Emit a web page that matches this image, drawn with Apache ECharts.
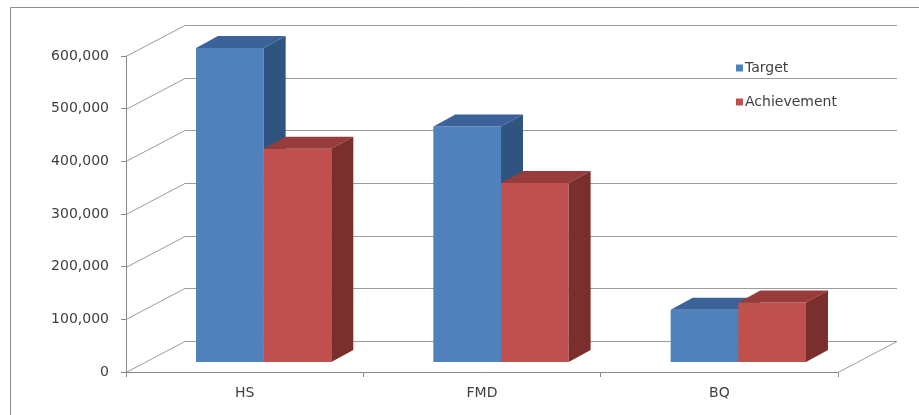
<!DOCTYPE html>
<html>
<head>
<meta charset="utf-8">
<script src="https://cdn.jsdelivr.net/npm/echarts@6/dist/echarts.min.js"></script>
<style>
  html, body { margin: 0; padding: 0; background: #ffffff; overflow: hidden; }
  #chart { width: 919px; height: 415px; }
</style>
</head>
<body>
<div id="chart"></div>
<script>
// ---- data ----
const categories = ['HS', 'FMD', 'BQ'];
const seriesNames = ['Target', 'Achievement'];
const targetValues = [596000, 447000, 99000];
const achievementValues = [405000, 340000, 113000];
const valueTicks = [0, 100000, 200000, 300000, 400000, 500000, 600000];

// ---- oblique 3D look (pixel offsets) ----
const WALL_DX = 59, WALL_DY = -31;        // depth of the back wall behind the front axis
const BAR_DX = 19, BAR_DY = -10;          // where the front faces of the bars sit
const DEPTH_DX = 22, DEPTH_DY = -12;      // thickness of each bar
const BAR_FRAC = 0.285;                   // bar width as a share of one category band

const GRID_COLOR = '#9c9c9c';
const AXIS_COLOR = '#888888';
const TEXT_COLOR = '#404040';
const FONT = 'DejaVu Sans';

const palette = {
  Target:      { front: '#4f81bd', top: '#3b6399', side: '#2f5480' },
  Achievement: { front: '#c0504d', top: '#973c3a', side: '#7a2f2d' }
};

function fmt(v) {
  return String(v).replace(/\B(?=(\d{3})+(?!\d))/g, ',');
}

// back wall gridlines with their diagonal connectors, plus the floor edge
function renderWall(params, api) {
  const cs = params.coordSys;
  const v = api.value(1);
  const y = Math.round(api.coord([0, v])[1]) + 0.5;
  const x0 = cs.x, x1 = cs.x + cs.width;
  const yb = y + WALL_DY;
  const st = { stroke: GRID_COLOR, lineWidth: 1 };
  const children = [
    { type: 'line', shape: { x1: x0, y1: y, x2: x0 + WALL_DX, y2: yb }, style: st },
    { type: 'line', shape: { x1: x0 + WALL_DX, y1: yb, x2: x1 + WALL_DX, y2: yb }, style: st }
  ];
  if (v === 0) {
    children.push({ type: 'line', shape: { x1: x1, y1: y, x2: x1 + WALL_DX, y2: yb }, style: st });
  }
  return { type: 'group', children: children };
}

// one 3D column: front face, top face, right side face
function makeBarRenderer(slot, colors) {
  return function (params, api) {
    const i = api.value(0), v = api.value(1);
    const base = api.coord([i, 0]);
    const head = api.coord([i, v]);
    const band = api.size([1, 0])[0];
    const w = band * BAR_FRAC;
    const l = base[0] + (slot === 0 ? -w : 0) + BAR_DX;
    const r = l + w;
    const yb = base[1] + BAR_DY;
    const yt = head[1] + BAR_DY;
    return {
      type: 'group',
      children: [
        { type: 'rect', shape: { x: l, y: yt, width: w, height: yb - yt }, style: { fill: colors.front } },
        { type: 'polygon', shape: { points: [[l, yt], [r, yt], [r + DEPTH_DX, yt + DEPTH_DY], [l + DEPTH_DX, yt + DEPTH_DY]] }, style: { fill: colors.top } },
        { type: 'polygon', shape: { points: [[r, yt], [r + DEPTH_DX, yt + DEPTH_DY], [r + DEPTH_DX, yb + DEPTH_DY], [r, yb]] }, style: { fill: colors.side } }
      ]
    };
  };
}

const chart = echarts.init(document.getElementById('chart'));

const option = {
  backgroundColor: '#ffffff',
  animation: false,
  textStyle: { fontFamily: FONT },
  grid: { left: 126, right: 81, top: 56, bottom: 43, containLabel: false },
  legend: {
    data: seriesNames,
    orient: 'vertical',
    left: 731,
    top: 56,
    icon: 'rect',
    itemWidth: 7,
    itemHeight: 7,
    itemGap: 20,
    textStyle: { color: TEXT_COLOR, fontSize: 14, fontFamily: FONT, padding: [0, 0, 0, -3] }
  },
  xAxis: {
    type: 'category',
    data: categories,
    boundaryGap: true,
    axisLine: { lineStyle: { color: AXIS_COLOR } },
    axisTick: { show: true, length: 5, lineStyle: { color: AXIS_COLOR } },
    axisLabel: { color: TEXT_COLOR, fontSize: 14, margin: 14, fontFamily: FONT },
    splitLine: { show: false }
  },
  yAxis: {
    type: 'value',
    min: 0,
    max: 600000,
    interval: 100000,
    axisLine: { show: true, lineStyle: { color: AXIS_COLOR } },
    axisTick: { show: true, length: 5, lineStyle: { color: AXIS_COLOR } },
    axisLabel: { color: TEXT_COLOR, fontSize: 14, margin: 17, fontFamily: FONT, formatter: fmt },
    splitLine: { show: false }
  },
  graphic: [
    // outer frame: only its left and top edges fall inside the canvas
    { type: 'rect', shape: { x: 10.5, y: 7.5, width: 1000, height: 1000 }, style: { stroke: '#8c8c8c', lineWidth: 1, fill: 'transparent' }, silent: true, z: -1 }
  ],
  series: [
    {
      type: 'custom',
      name: 'wall',
      renderItem: renderWall,
      data: valueTicks.map(v => [0, v]),
      encode: { x: 0, y: 1 },
      silent: true,
      z: 1
    },
    {
      type: 'custom',
      name: seriesNames[0],
      renderItem: makeBarRenderer(0, palette.Target),
      itemStyle: { color: palette.Target.front },
      data: targetValues.map((v, i) => [i, v]),
      encode: { x: 0, y: 1 },
      z: 2
    },
    {
      type: 'custom',
      name: seriesNames[1],
      renderItem: makeBarRenderer(1, palette.Achievement),
      itemStyle: { color: palette.Achievement.front },
      data: achievementValues.map((v, i) => [i, v]),
      encode: { x: 0, y: 1 },
      z: 3
    }
  ]
};

chart.setOption(option);
</script>
</body>
</html>
